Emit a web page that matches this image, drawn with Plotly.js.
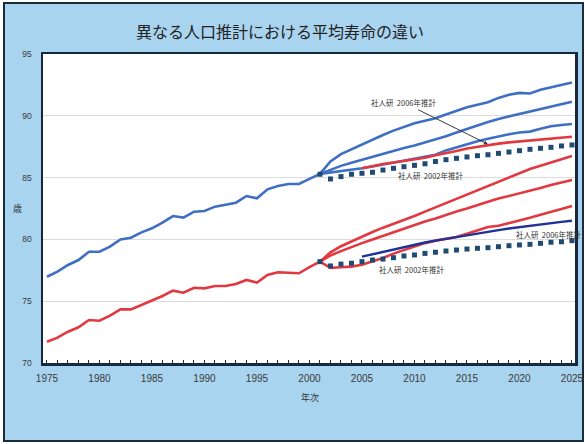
<!DOCTYPE html>
<html>
<head>
<meta charset="utf-8">
<script src="https://cdn.plot.ly/plotly-3.0.1.min.js"></script>
<style>
  html, body { margin: 0; padding: 0; background: #ffffff; }
  #chart { width: 585px; height: 444px; }
</style>
</head>
<body>
<div id="chart"></div>
<script>
// Observed life expectancy, 1975-2001
const histYears = [1975, 1976, 1977, 1978, 1979, 1980, 1981, 1982, 1983, 1984, 1985, 1986, 1987, 1988,
  1989, 1990, 1991, 1992, 1993, 1994, 1995, 1996, 1997, 1998, 1999, 2000, 2001];
const femaleHist = [76.98, 77.39, 77.93, 78.33, 79.0, 79.0, 79.41, 80.0, 80.14, 80.57, 80.9, 81.35, 81.89, 81.76,
  82.24, 82.3, 82.65, 82.78, 82.97, 83.51, 83.32, 84.05, 84.32, 84.48, 84.48, 84.9, 85.3];
const maleHist = [71.72, 72.05, 72.53, 72.89, 73.48, 73.42, 73.83, 74.34, 74.34, 74.69, 75.02, 75.42, 75.85, 75.69,
  76.09, 76.04, 76.23, 76.23, 76.39, 76.72, 76.5, 77.12, 77.34, 77.31, 77.26, 77.75, 78.2];

// Projections, 2001-2025
const projYears = [2001, 2002, 2003, 2004, 2005, 2006, 2007, 2008, 2009, 2010, 2011, 2012, 2013,
  2014, 2015, 2016, 2017, 2018, 2019, 2020, 2021, 2022, 2023, 2024, 2025];
const femaleHigh = [85.3, 86.3, 86.9, 87.3, 87.7, 88.1, 88.45, 88.8, 89.1, 89.4, 89.6, 89.8, 90.1,
  90.4, 90.7, 90.9, 91.1, 91.45, 91.7, 91.85, 91.8, 92.1, 92.3, 92.5, 92.7];
const femaleMid = [85.3, 85.65, 85.95, 86.2, 86.45, 86.7, 86.9, 87.15, 87.4, 87.6, 87.85, 88.05, 88.35,
  88.65, 88.95, 89.2, 89.5, 89.75, 89.95, 90.2, 90.4, 90.6, 90.8, 90.95, 91.14];
const femaleLow = [85.3, 85.4, 85.55, 85.65, 85.75, 85.9, 86.05, 86.2, 86.35, 86.5, 86.65, 86.85, 87.2,
  87.45, 87.75, 87.95, 88.15, 88.35, 88.5, 88.65, 88.72, 88.95, 89.15, 89.25, 89.34];
const female2002 = [85.27, 84.89, 85.08, 85.27, 85.35, 85.43, 85.61, 85.75, 85.88, 85.99, 86.12, 86.3, 86.45,
  86.56, 86.67, 86.77, 86.85, 86.96, 87.07, 87.18, 87.29, 87.37, 87.45, 87.56, 87.64];
const maleHigh = [78.2, 78.95, 79.45, 79.85, 80.2, 80.6, 80.95, 81.25, 81.6, 81.9, 82.25, 82.6, 82.95,
  83.3, 83.65, 84.0, 84.3, 84.65, 85.0, 85.4, 85.7, 85.95, 86.2, 86.5, 86.75];
const maleMid = [78.2, 78.7, 79.05, 79.4, 79.7, 80.0, 80.3, 80.6, 80.9, 81.2, 81.45, 81.7, 82.0,
  82.25, 82.5, 82.8, 83.05, 83.3, 83.5, 83.7, 83.95, 84.15, 84.4, 84.6, 84.8];
const maleLow = [78.2, 77.7, 77.75, 77.8, 77.95, 78.2, 78.5, 78.85, 79.15, 79.45, 79.7, 79.9, 80.05,
  80.2, 80.45, 80.75, 81.0, 81.1, 81.3, 81.55, 81.75, 82.0, 82.2, 82.45, 82.7];
const male2002 = [78.2, 77.85, 78.0, 78.07, 78.2, 78.33, 78.41, 78.52, 78.66, 78.74, 78.87, 78.96, 79.06,
  79.14, 79.22, 79.28, 79.33, 79.41, 79.49, 79.55, 79.6, 79.68, 79.77, 79.81, 79.9];

// 2006-based projection, 2005-2025
const proj2006Years = [2005, 2006, 2007, 2008, 2009, 2010, 2011, 2012, 2013, 2014, 2015, 2016, 2017,
  2018, 2019, 2020, 2021, 2022, 2023, 2024, 2025];
const female2006 = [85.75, 85.95, 86.1, 86.22, 86.35, 86.48, 86.6, 86.8, 86.95, 87.15, 87.35, 87.5, 87.62,
  87.75, 87.85, 87.93, 87.99, 88.07, 88.15, 88.23, 88.31];
const male2006 = [78.6, 78.8, 79.0, 79.2, 79.4, 79.6, 79.75, 79.9, 80.05, 80.17, 80.3, 80.45, 80.6,
  80.75, 80.88, 81.0, 81.1, 81.22, 81.32, 81.42, 81.51];

const xTicks = [1975, 1980, 1985, 1990, 1995, 2000, 2005, 2010, 2015, 2020, 2025];
const yTicks = [70, 75, 80, 85, 90, 95];

const titleText = '異なる人口推計における平均寿命の違い';
const xTitle = '年次';
const yTitle = '歳';
const label2006 = '社人研  2006年推計';
const label2002 = '社人研  2002年推計';

const BLUE = '#3f6fc2';
const RED = '#e2383f';
const NAVY = '#1f3296';
const SQUARE = '#1f4a74';
const FONT = '"Noto Sans CJK JP", "Liberation Sans", Arial, sans-serif';

function line(x, y, color, width) {
  return { x: x, y: y, type: 'scatter', mode: 'lines', hoverinfo: 'skip',
    line: { color: color, width: width || 2.6 } };
}
function squares(x, y) {
  return { x: x, y: y, type: 'scatter', mode: 'markers', hoverinfo: 'skip',
    marker: { symbol: 'square', size: 5, color: SQUARE, line: { width: 0 } } };
}

const traces = [
  line(histYears, femaleHist, BLUE),
  line(projYears, femaleLow, BLUE),
  line(projYears, femaleMid, BLUE),
  line(projYears, femaleHigh, BLUE),
  line(proj2006Years, female2006, RED),
  squares(projYears, female2002),
  line(histYears, maleHist, RED),
  line(projYears, maleLow, RED),
  line(projYears, maleMid, RED),
  line(projYears, maleHigh, RED),
  line(proj2006Years, male2006, NAVY, 2.4),
  squares(projYears, male2002)
];

// page-pixel layout of the plotting area
const W = 585, H = 444;
const PL = 43, PR = 575, PT = 54, PB = 363;
const px = v => (v - PL) / (PR - PL);
const py = v => (PB - v) / (PB - PT);

const layout = {
  width: W, height: H,
  margin: { l: PL, r: W - PR, t: PT, b: H - PB, pad: 0 },
  paper_bgcolor: '#ffffff',
  plot_bgcolor: 'rgba(0,0,0,0)',
  showlegend: false,
  font: { family: FONT, color: '#333333' },
  title: {
    text: titleText, font: { family: FONT, size: 16, color: '#222222' },
    xref: 'paper', x: px(280), xanchor: 'center',
    yref: 'container', y: 1 - 32 / H, yanchor: 'middle'
  },
  xaxis: {
    range: [1974.62, 2025.29],
    tickmode: 'array', tickvals: xTicks, ticktext: xTicks.map(String),
    ticks: 'inside', ticklen: 3, tickcolor: '#1b2c40', tickwidth: 1,
    minor: { dtick: 1, tick0: 1975, ticks: 'inside', ticklen: 3, tickcolor: '#1b2c40', showgrid: false },
    tickfont: { family: '"Liberation Sans", Arial, sans-serif', size: 10, color: '#3a3a3a' },
    ticklabelstandoff: 4,
    showgrid: false, zeroline: false,
    showline: true, linecolor: '#15283d', linewidth: 2.5, mirror: true
  },
  yaxis: {
    range: [70, 95],
    tickmode: 'array', tickvals: yTicks, ticktext: yTicks.map(String),
    ticks: '',
    tickfont: { family: '"Liberation Sans", Arial, sans-serif', size: 8.5, color: '#3a3a3a' },
    ticklabelstandoff: 7,
    showgrid: true, gridcolor: '#dcdcdc', gridwidth: 1,
    zeroline: false,
    showline: true, linecolor: '#15283d', linewidth: 2.5, mirror: true
  },
  shapes: [
    // light blue card with dark frame
    { type: 'rect', xref: 'paper', yref: 'paper', layer: 'below',
      x0: px(4), x1: px(583), y0: py(441), y1: py(3),
      fillcolor: '#a9d4ef', line: { color: '#1c2b3a', width: 2 } },
    // white plotting area
    { type: 'rect', xref: 'paper', yref: 'paper', layer: 'below',
      x0: 0, x1: 1, y0: 0, y1: 1,
      fillcolor: '#ffffff', line: { width: 0 } }
  ],
  annotations: [
    { text: yTitle, xref: 'paper', yref: 'paper', x: px(17), y: py(209),
      xanchor: 'center', yanchor: 'middle',
      showarrow: false, font: { family: FONT, size: 9, color: '#333333' } },
    { text: xTitle, xref: 'paper', yref: 'paper', x: px(310), y: py(397),
      xanchor: 'center', yanchor: 'middle',
      showarrow: false, font: { family: FONT, size: 9, color: '#333333' } },
    // female: 2006-based projection callout with arrow
    { text: label2006, x: 2017.0, y: 87.7, xref: 'x', yref: 'y',
      ax: 2009.0, ay: 91.06, axref: 'x', ayref: 'y',
      showarrow: true, arrowhead: 2, arrowsize: 0.8, arrowwidth: 1, arrowcolor: '#3a3a3a',
      standoff: 0, startstandoff: 0,
      font: { family: FONT, size: 7.5, color: '#333333' } },
    { text: label2002, x: 2011.6, y: 85.15, xref: 'x', yref: 'y', showarrow: false,
      font: { family: FONT, size: 7.5, color: '#333333' } },
    // male labels
    { text: label2002, x: 2009.8, y: 77.58, xref: 'x', yref: 'y', showarrow: false,
      font: { family: FONT, size: 7.5, color: '#333333' } },
    { text: label2006, x: 2022.8, y: 80.36, xref: 'x', yref: 'y', showarrow: false,
      font: { family: FONT, size: 7.5, color: '#333333' } }
  ]
};

Plotly.newPlot('chart', traces, layout, { staticPlot: true, displayModeBar: false });
</script>
</body>
</html>
